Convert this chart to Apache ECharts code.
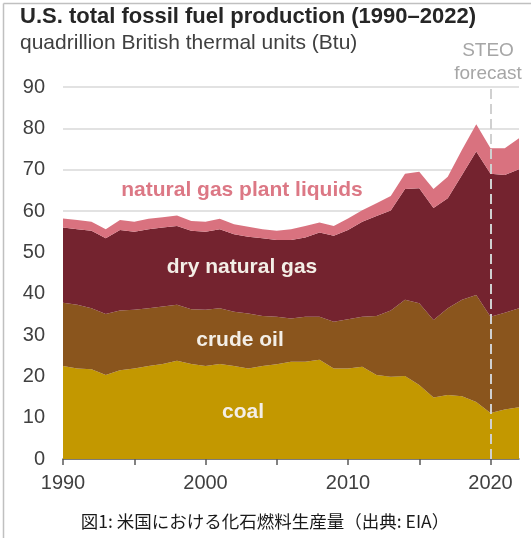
<!DOCTYPE html>
<html>
<head>
<meta charset="utf-8">
<script src="https://cdn.jsdelivr.net/npm/echarts@6/dist/echarts.min.js"></script>
<style>
html,body{margin:0;padding:0;background:#fff;}
#c{width:531px;height:538px;}
</style>
</head>
<body>
<div id="c"></div>
<script>
const years = ['1990','1991','1992','1993','1994','1995','1996','1997','1998','1999','2000','2001','2002','2003','2004','2005','2006','2007','2008','2009','2010','2011','2012','2013','2014','2015','2016','2017','2018','2019','2020','2021','2022'];
const coal = [22.5,21.9,21.7,20.3,21.5,21.9,22.5,23.0,23.8,23.0,22.5,23.0,22.5,21.9,22.5,22.9,23.5,23.5,24.0,21.9,21.9,22.3,20.3,19.9,20.1,17.9,14.9,15.5,15.2,13.8,11.1,12.0,12.5];
const crudeOil = [15.3,15.4,14.8,14.8,14.4,14.2,14.0,13.9,13.5,13.2,13.6,13.5,13.1,13.3,12.1,11.5,10.5,10.9,10.4,11.3,11.9,12.1,14.3,16.0,18.4,19.8,18.7,21.0,23.3,25.9,23.3,23.4,24.0];
const dryNaturalGas = [18.2,18.3,18.7,18.3,19.5,18.9,19.1,19.1,19.1,19.0,18.9,19.1,18.8,18.6,18.8,18.6,19.0,19.2,20.4,20.8,21.6,23.0,24.2,24.2,26.8,27.8,27.1,26.6,30.2,34.7,34.6,33.3,33.6];
const ngpl = [2.2,2.2,2.2,2.2,2.4,2.4,2.5,2.5,2.5,2.4,2.4,2.5,2.4,2.4,2.2,2.2,2.6,2.8,2.4,2.4,2.8,2.8,3.1,3.5,3.7,4.0,4.6,5.2,6.1,6.6,6.2,6.5,7.5];
const yTicks = [0,10,20,30,40,50,60,70,80,90];
const forecastStart = '2020';

const chart = echarts.init(document.getElementById('c'), null, {renderer:'canvas'});
const FONT = '"Liberation Sans", Arial, sans-serif';
function areaSeries(name, data, color){
  return {
    name, type:'line', stack:'total', data, symbol:'none', showSymbol:false,
    lineStyle:{width:0}, areaStyle:{color, opacity:1}, itemStyle:{color},
    emphasis:{disabled:true}, silent:true, animation:false
  };
}
const s4 = areaSeries('natural gas plant liquids', ngpl, '#D9727F');
s4.markLine = {
  silent:true, symbol:'none', animation:false,
  label:{show:false},
  lineStyle:{color:'#D0D0D0', width:2, type:[10,5]},
  data:[{xAxis: forecastStart}]
};
chart.setOption({
  animation:false,
  backgroundColor:'#fff',
  grid:{left:63, right:12, top:87, bottom:79, containLabel:false},
  xAxis:{
    type:'category', data:years, boundaryGap:false,
    axisLine:{show:true, lineStyle:{color:'#5a5a5a', width:1.5}},
    axisTick:{show:true, length:6, lineStyle:{color:'#5a5a5a', width:1.5},
      interval:(i)=> i % 5 === 0},
    axisLabel:{interval:(i, v)=> Number(v) % 10 === 0, margin:14,
      fontSize:20, color:'#404040', fontFamily:FONT},
    splitLine:{show:false}
  },
  yAxis:{
    type:'value', min:yTicks[0], max:yTicks[yTicks.length-1], interval:10,
    axisLine:{show:false}, axisTick:{show:false},
    axisLabel:{fontSize:20, color:'#404040', margin:18, fontFamily:FONT},
    splitLine:{show:true, lineStyle:{color:'#D9D9D9', width:1.5}}
  },
  series:[
    areaSeries('coal', coal, '#C39800'),
    areaSeries('crude oil', crudeOil, '#8A551D'),
    areaSeries('dry natural gas', dryNaturalGas, '#74232F'),
    s4
  ],
  graphic:[
    {type:'line', shape:{x1:3.5,y1:3.5,x2:531,y2:3.5}, style:{stroke:'#C0C0C0', lineWidth:1.5}, silent:true},
    {type:'line', shape:{x1:3.5,y1:3.5,x2:3.5,y2:538}, style:{stroke:'#C0C0C0', lineWidth:1.5}, silent:true},
    {type:'text', left:20, top:6, style:{text:'U.S. total fossil fuel production (1990–2022)', font:'bold 22px '+FONT, fill:'#262626'}},
    {type:'text', left:20, top:33, style:{text:'quadrillion British thermal units (Btu)', font:'21px '+FONT, fill:'#404040'}},
    {type:'text', x:488, y:51, style:{text:'STEO', font:'19px '+FONT, fill:'#A6A6A6', align:'center', verticalAlign:'middle'}},
    {type:'text', x:488, y:74, style:{text:'forecast', font:'19px '+FONT, fill:'#A6A6A6', align:'center', verticalAlign:'middle'}},
    {type:'text', x:242, y:190, z:10, style:{text:'natural gas plant liquids', font:'bold 21px '+FONT, fill:'#DC7885', align:'center', verticalAlign:'middle'}},
    {type:'text', x:242, y:267, z:10, style:{text:'dry natural gas', font:'bold 21px '+FONT, fill:'#F3EEE6', align:'center', verticalAlign:'middle'}},
    {type:'text', x:240, y:340, z:10, style:{text:'crude oil', font:'bold 21px '+FONT, fill:'#F3EEE6', align:'center', verticalAlign:'middle'}},
    {type:'text', x:243, y:412, z:10, style:{text:'coal', font:'bold 21px '+FONT, fill:'#F3EEE6', align:'center', verticalAlign:'middle'}},
    {type:'text', x:265, y:521, style:{text:'図1: 米国における化石燃料生産量（出典: EIA）', font:'17.5px "Noto Sans CJK JP", sans-serif', fill:'#1a1a1a', align:'center', verticalAlign:'middle'}}
  ]
});
</script>
</body>
</html>
